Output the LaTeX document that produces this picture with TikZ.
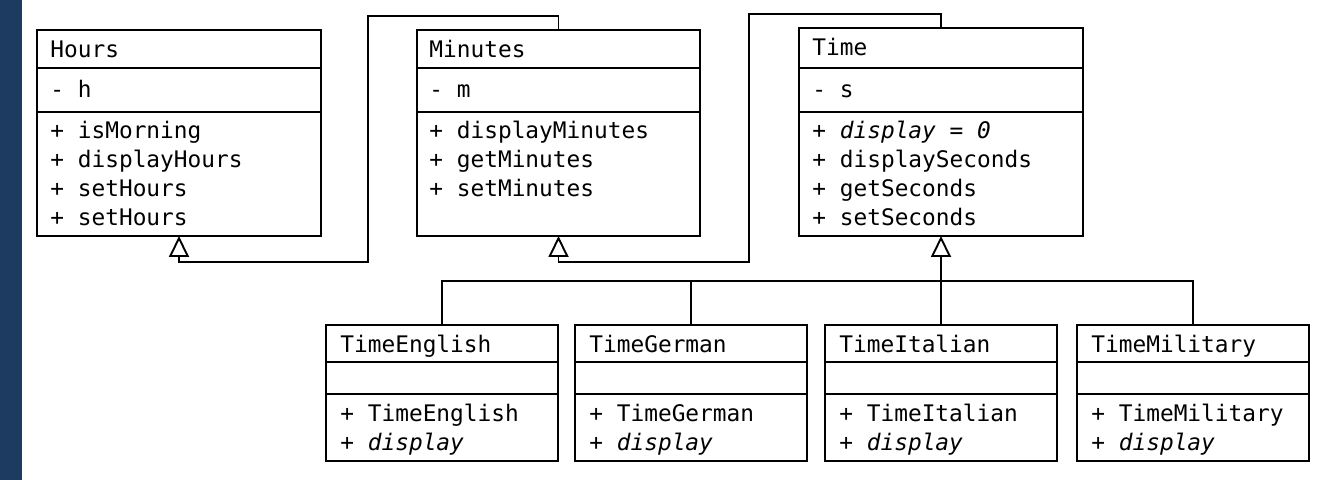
\documentclass[tikz,border=0pt]{standalone}
\usepackage{fontspec}
\newfontfamily\monofam{DejaVu Sans Mono}
\usetikzlibrary{arrows.meta}
\definecolor{barblue}{HTML}{1D3B61}
\begin{document}
\begin{tikzpicture}[x=0.5pt,y=-0.5pt,
  box/.style={draw, line width=1.45pt, anchor=north west, inner sep=0pt, outer sep=0pt},
  bigbox/.style={box, minimum width=142pt, minimum height=103pt},
  smallbox/.style={box, minimum width=116pt, minimum height=68pt},
  divider/.style={line width=1.45pt},
  txt/.style={anchor=base west, inner sep=0pt, font=\monofam\fontsize{11.4pt}{13pt}\selectfont},
  conn/.style={line width=0.95pt},
  gen/.style={conn, -{Triangle[open, width=10pt, length=10.5pt, line width=0.95pt]}}
]
\useasboundingbox (0,0) rectangle (1338,480);
\fill[white] (0,0) rectangle (1338,480);
\fill[barblue] (0,0) rectangle (22,480);

% top classes
\node[bigbox] (hours) at (37,30) {};
\node[bigbox, minimum width=141.5pt] (minutes) at (417,30) {};
\node[bigbox, minimum height=104pt] (time) at (799,28) {};
\draw[divider] (37,68) -- (321,68) (37,112) -- (321,112);
\draw[divider] (417,68) -- (700,68) (417,112) -- (700,112);
\draw[divider] (799,68) -- (1083,68) (799,112) -- (1083,112);

% child classes
\node[smallbox] (english) at (326,325) {};
\node[smallbox] (german) at (575,325) {};
\node[smallbox] (italian) at (825,325) {};
\node[smallbox] (military) at (1077,325) {};
\foreach \x in {326,575,825,1077}{
  \draw[divider] (\x,362) -- ++(232,0) (\x,394) -- ++(232,0);
}

% texts: Hours
\node[txt] (h0) at (50,58) {Hours};
\node[txt] (h1) at (50,98) {- h};
\node[txt] (h2) at (50,139) {+ isMorning};
\node[txt] (h3) at (50,168) {+ displayHours};
\node[txt] (h4) at (50,197) {+ setHours};
\node[txt] (h5) at (50,226) {+ setHours};
% Minutes
\node[txt] (m0) at (429,58) {Minutes};
\node[txt] (m1) at (429,98) {- m};
\node[txt] (m2) at (429,139) {+ displayMinutes};
\node[txt] (m3) at (429,168) {+ getMinutes};
\node[txt] (m4) at (429,197) {+ setMinutes};
% Time
\node[txt] (t0) at (812,56) {Time};
\node[txt] (t1) at (812,98) {- s};
\node[txt] (t2) at (812,139) {+ \itshape display = 0};
\node[txt] (t3) at (812,168) {+ displaySeconds};
\node[txt] (t4) at (812,197) {+ getSeconds};
\node[txt] (t5) at (812,226) {+ setSeconds};
% children
\node[txt] (e0) at (340,353) {TimeEnglish};
\node[txt] (e1) at (340,422) {+ TimeEnglish};
\node[txt] (e2) at (340,451) {+ \itshape display};
\node[txt] (g0) at (589,353) {TimeGerman};
\node[txt] (g1) at (589,422) {+ TimeGerman};
\node[txt] (g2) at (589,451) {+ \itshape display};
\node[txt] (i0) at (839,353) {TimeItalian};
\node[txt] (i1) at (839,422) {+ TimeItalian};
\node[txt] (i2) at (839,451) {+ \itshape display};
\node[txt] (l0) at (1091,353) {TimeMilitary};
\node[txt] (l1) at (1091,422) {+ TimeMilitary};
\node[txt] (l2) at (1091,451) {+ \itshape display};

% connectors
\draw[gen] (minutes.north) -- ++(0,-14) -| (368,262) -| (hours.south);
\draw[gen] (time.north) -- ++(0,-14) -| (749,262) -| (minutes.south);
\coordinate (bus) at (941,281);
\draw[conn] (english.north) |- (bus);
\draw[conn] (german.north) |- (bus);
\draw[conn] (military.north) |- (bus);
\draw[gen] (italian.north) -- (time.south);
\end{tikzpicture}
\end{document}
